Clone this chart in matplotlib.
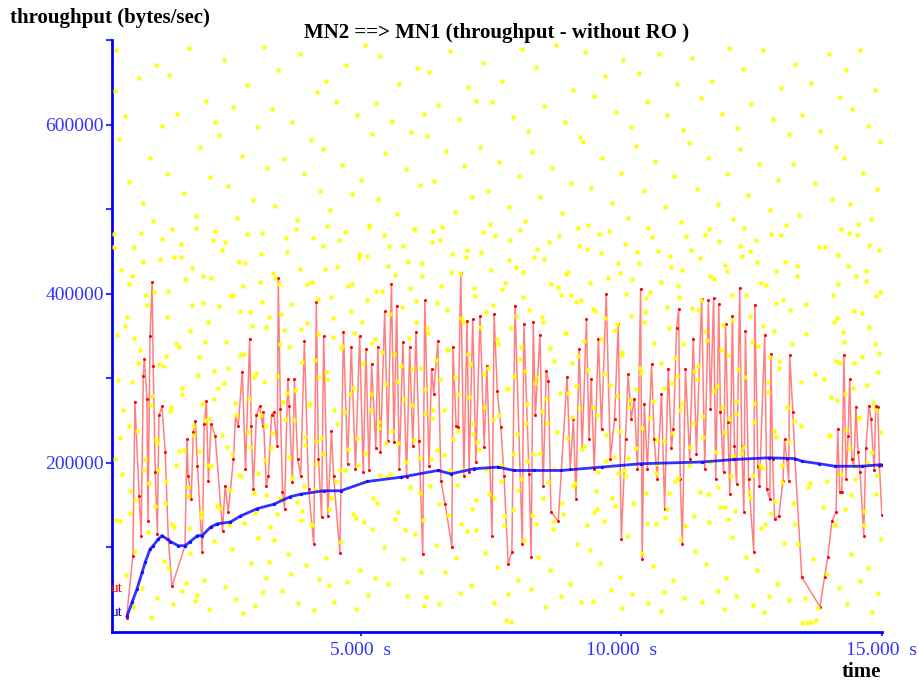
import matplotlib
matplotlib.use("Agg")
import matplotlib.pyplot as plt

plt.rcParams["font.family"] = ["Liberation Serif", "DejaVu Serif"]

# ---------------------------------------------------------------------------
# Data (time in s, throughput in kbytes/sec)
# ---------------------------------------------------------------------------
red_t = [0.51, 0.63, 0.67, 0.75, 0.79, 0.83, 0.85, 0.90, 0.92, 0.96, 1.00, 1.02,
         1.06, 1.10, 1.13, 1.19, 1.25, 1.31, 1.38, 1.63, 1.67, 1.69, 1.75, 1.79,
         1.83, 1.87, 1.96, 2.00, 2.04, 2.08, 2.13, 2.21, 2.35, 2.40, 2.46, 2.56,
         2.60, 2.65, 2.73, 2.79, 2.87, 2.90, 2.94, 3.00, 3.06, 3.12, 3.13, 3.19,
         3.23, 3.29, 3.33, 3.40, 3.42, 3.46, 3.50, 3.54, 3.60, 3.63, 3.69, 3.73,
         3.79, 3.85, 3.92, 4.00, 4.10, 4.15, 4.19, 4.25, 4.29, 4.37, 4.44, 4.48,
         4.60, 4.67, 4.75, 4.82, 4.90, 4.98, 5.05, 5.10, 5.16, 5.21, 5.29, 5.33,
         5.38, 5.46, 5.52, 5.59, 5.64, 5.69, 5.74, 5.81, 5.88, 5.94, 6.00, 6.06,
         6.12, 6.19, 6.23, 6.31, 6.36, 6.40, 6.48, 6.54, 6.62, 6.75, 6.77, 6.83,
         6.87, 6.92, 6.98, 7.04, 7.08, 7.15, 7.21, 7.29, 7.37, 7.42, 7.52, 7.56,
         7.62, 7.69, 7.75, 7.83, 7.90, 7.96, 8.10, 8.13, 8.23, 8.27, 8.31, 8.35,
         8.44, 8.50, 8.56, 8.60, 8.65, 8.79, 8.96, 9.02, 9.08, 9.13, 9.19, 9.25,
         9.33, 9.38, 9.42, 9.48, 9.56, 9.62, 9.71, 9.79, 9.87, 9.94, 10.00, 10.08,
         10.13, 10.19, 10.25, 10.31, 10.37, 10.40, 10.44, 10.50, 10.58, 10.63, 10.69, 10.77,
         10.83, 10.90, 10.96, 11.00, 11.06, 11.10, 11.13, 11.17, 11.23, 11.31, 11.38, 11.44,
         11.54, 11.60, 11.67, 11.71, 11.77, 11.81, 11.87, 11.90, 11.96, 12.00, 12.04, 12.08,
         12.13, 12.17, 12.21, 12.27, 12.31, 12.35, 12.38, 12.44, 12.54, 12.56, 12.62, 12.65,
         12.75, 12.79, 12.85, 12.87, 12.90, 12.94, 13.02, 13.10, 13.13, 13.17, 13.21, 13.23,
         13.29, 13.33, 13.46, 13.81, 13.90, 13.96, 14.04, 14.12, 14.15, 14.19, 14.23, 14.27,
         14.31, 14.35, 14.38, 14.42, 14.46, 14.50, 14.54, 14.58, 14.65, 14.69, 14.75, 14.79,
         14.85, 14.88, 14.92, 14.95, 15.00]
red_v = [17, 90, 272, 161, 114, 303, 323, 276, 131, 350, 414, 315,
         189, 116, 256, 267, 213, 110, 54, 102, 228, 185, 157, 237,
         249, 196, 95, 246, 273, 178, 246, 232, 120, 173, 142, 205,
         256, 243, 308, 193, 347, 244, 169, 256, 267, 244, 260, 173,
         185, 256, 260, 220, 418, 264, 166, 146, 299, 267, 177, 299,
         205, 185, 344, 169, 104, 390, 205, 136, 350, 137, 238, 185,
         94, 355, 199, 337, 193, 350, 189, 335, 191, 317, 217, 337,
         213, 379, 226, 411, 225, 386, 193, 343, 183, 337, 220, 355,
         226, 92, 392, 196, 311, 282, 344, 179, 151, 101, 337, 244,
         242, 425, 185, 368, 189, 370, 201, 374, 219, 315, 114, 376,
         285, 242, 185, 80, 95, 386, 104, 364, 187, 89, 366, 256,
         351, 173, 309, 297, 142, 131, 302, 193, 252, 157, 335, 217,
         370, 228, 299, 193, 347, 240, 400, 205, 252, 364, 110, 228,
         305, 252, 276, 193, 406, 86, 270, 193, 317, 228, 181, 282,
         146, 311, 217, 240, 359, 382, 181, 104, 311, 205, 347, 211,
         394, 193, 392, 264, 395, 181, 388, 260, 189, 364, 248, 163,
         374, 220, 175, 407, 220, 142, 356, 181, 95, 387, 196, 173,
         351, 169, 157, 329, 205, 134, 137, 178, 228, 205, 179, 327,
         260, 205, 65, 30, 65, 89, 131, 142, 240, 166, 166, 327,
         181, 232, 299, 205, 196, 266, 213, 189, 114, 217, 267, 252,
         191, 267, 266, 196, 138]

blue_t = [0.52, 0.62, 0.71, 0.81, 0.87, 0.96, 1.02, 1.12, 1.19, 1.35, 1.50, 1.63,
          1.73, 1.87, 1.96, 2.12, 2.25, 2.50, 2.69, 3.02, 3.33, 3.65, 3.85, 4.29,
          4.62, 5.13, 5.77, 6.48, 6.73, 7.17, 7.63, 7.94, 8.33, 8.85, 9.62, 10.38,
          11.54, 12.17, 12.83, 13.33, 13.46, 13.79, 14.10, 14.62, 15.00]
blue_v = [19, 36, 51, 71, 83, 98, 102, 110, 114, 107, 102, 102,
          107, 114, 114, 124, 128, 130, 137, 146, 151, 160, 163, 167,
          167, 178, 183, 191, 187, 193, 195, 191, 191, 191, 195, 199,
          201, 204, 206, 205, 202, 199, 196, 196, 198]

# yellow scatter, split in time bands
yellow_0_5 = [
    (0.31, 688), (0.29, 640), (0.47, 610), (0.74, 655), (1.08, 671), (0.36, 583), (0.95, 560), (1.19, 598),
    (0.56, 532), (0.83, 507), (0.27, 471), (1.02, 486), (0.66, 455), (0.41, 428), (1.15, 441), (0.88, 398),
    (0.52, 372), (0.33, 351), (0.77, 333), (1.21, 315), (0.62, 296), (0.99, 279), (0.44, 262), (0.71, 238),
    (1.12, 224), (0.29, 205), (0.85, 191), (0.58, 167), (1.05, 149), (0.38, 131), (0.92, 118), (0.68, 96),
    (1.22, 84), (0.49, 67), (0.81, 52), (1.10, 40), (0.30, 22), (0.64, 30), (0.97, 18), (0.55, 412),
    (1.33, 659), (1.71, 690), (2.03, 628), (1.48, 612), (1.92, 574), (2.21, 603), (1.28, 541), (1.62, 519),
    (2.11, 538), (1.84, 492), (1.39, 477), (2.16, 463), (1.55, 444), (1.97, 421), (1.31, 403), (1.76, 387),
    (2.07, 366), (1.46, 342), (1.89, 325), (2.19, 309), (1.58, 288), (1.36, 266), (2.01, 251), (1.79, 233),
    (1.51, 214), (2.13, 196), (1.27, 178), (1.68, 161), (1.94, 142), (1.42, 124), (2.18, 108), (1.73, 93),
    (1.30, 76), (1.99, 61), (1.57, 49), (1.82, 37), (2.09, 27), (1.40, 33), (1.64, 58), (1.87, 44),
    (2.37, 676), (2.81, 647), (3.14, 692), (2.55, 621), (3.02, 597), (2.29, 588), (2.72, 563), (3.21, 549),
    (2.46, 527), (2.93, 511), (2.63, 489), (3.11, 472), (2.34, 452), (2.78, 436), (3.06, 414), (2.51, 397),
    (2.87, 378), (3.18, 361), (2.41, 343), (2.69, 327), (2.99, 306), (2.27, 289), (2.58, 271), (3.09, 257),
    (2.83, 237), (2.44, 219), (3.16, 203), (2.66, 186), (2.95, 164), (2.31, 147), (2.76, 129), (3.04, 111),
    (2.53, 98), (2.89, 81), (3.19, 64), (2.39, 53), (2.61, 39), (2.97, 31), (3.13, 47), (2.74, 22),
    (3.41, 664), (3.83, 683), (4.17, 639), (3.29, 618), (3.68, 603), (4.04, 582), (3.52, 559), (3.91, 541),
    (4.22, 521), (3.36, 504), (3.77, 487), (4.09, 466), (3.58, 449), (3.31, 425), (3.97, 411), (4.19, 394),
    (3.47, 376), (3.86, 358), (3.63, 337), (4.12, 322), (3.39, 303), (3.74, 286), (4.01, 268), (3.55, 252),
    (3.93, 231), (3.28, 217), (4.15, 199), (3.69, 182), (3.45, 159), (3.88, 143), (4.07, 127), (3.33, 109),
    (3.61, 92), (3.96, 79), (4.21, 63), (3.49, 48), (3.79, 34), (4.10, 26), (3.66, 68), (3.25, 83),
    (4.34, 652), (4.71, 671), (5.09, 694), (4.52, 627), (4.93, 611), (5.21, 589), (4.28, 571), (4.64, 552),
    (5.01, 534), (4.83, 518), (4.41, 499), (5.16, 481), (4.58, 463), (4.97, 447), (4.31, 429), (4.76, 409),
    (5.12, 392), (4.47, 371), (4.88, 354), (4.62, 336), (5.04, 318), (4.36, 299), (4.79, 281), (5.19, 263),
    (4.55, 246), (4.92, 229), (4.27, 211), (4.69, 192), (5.07, 177), (4.44, 158), (4.86, 139), (5.22, 122),
    (4.61, 106), (4.33, 88), (4.99, 73), (4.74, 59), (5.14, 44), (4.49, 36), (4.91, 27), (4.39, 55),
]
yellow_5_10 = [
    (5.37, 681), (5.74, 648), (6.08, 667), (5.29, 626), (5.61, 604), (5.97, 591), (6.21, 613), (5.46, 566),
    (5.86, 547), (6.14, 528), (5.33, 512), (5.69, 494), (6.02, 476), (5.54, 457), (5.91, 438), (6.18, 421),
    (5.41, 403), (5.79, 384), (6.06, 366), (5.27, 347), (5.64, 329), (5.99, 311), (5.49, 293), (5.84, 276),
    (6.23, 259), (5.36, 241), (5.71, 223), (6.11, 206), (5.57, 187), (5.94, 171), (5.31, 152), (5.66, 134),
    (6.04, 116), (5.44, 101), (5.81, 86), (6.16, 71), (5.52, 57), (5.89, 42), (6.22, 31), (5.28, 64),
    (6.32, 662), (6.71, 687), (7.06, 645), (6.49, 623), (6.89, 606), (7.21, 628), (6.27, 587), (6.63, 569),
    (6.98, 551), (6.41, 533), (7.13, 514), (6.81, 497), (6.56, 479), (6.36, 461), (7.02, 443), (6.74, 426),
    (7.18, 407), (6.47, 389), (6.93, 371), (6.29, 353), (6.66, 334), (7.09, 317), (6.53, 299), (6.86, 281),
    (6.38, 263), (7.15, 246), (6.77, 228), (6.59, 209), (6.96, 192), (6.33, 173), (7.22, 156), (6.68, 138),
    (7.04, 119), (6.44, 103), (6.83, 87), (6.61, 71), (7.11, 56), (6.91, 46), (6.51, 33), (6.26, 41),
    (7.34, 673), (7.72, 651), (8.09, 689), (7.51, 627), (7.93, 609), (8.21, 592), (7.29, 574), (7.66, 556),
    (8.03, 539), (7.44, 521), (7.84, 503), (8.16, 486), (7.58, 468), (7.31, 449), (7.97, 431), (7.77, 413),
    (8.12, 396), (7.41, 378), (7.88, 359), (7.63, 341), (8.06, 323), (7.36, 305), (7.81, 287), (8.19, 270),
    (7.54, 252), (7.99, 234), (7.27, 216), (7.69, 198), (8.08, 181), (7.47, 163), (7.92, 144), (7.74, 126),
    (8.14, 109), (7.38, 93), (7.61, 77), (8.01, 61), (7.83, 45), (7.55, 34), (7.78, 14), (7.88, 12),
    (8.36, 668), (8.74, 694), (9.08, 641), (8.52, 622), (8.91, 603), (9.21, 585), (8.29, 567), (8.67, 549),
    (9.03, 531), (8.44, 514), (8.86, 496), (9.16, 478), (8.61, 461), (8.33, 443), (8.98, 426), (8.79, 408),
    (9.13, 390), (8.48, 372), (8.94, 354), (8.64, 336), (9.06, 318), (8.39, 301), (8.82, 283), (9.19, 265),
    (8.57, 247), (8.96, 229), (8.31, 211), (8.71, 193), (9.11, 176), (8.49, 158), (8.89, 140), (8.69, 122),
    (9.14, 104), (8.41, 89), (8.63, 73), (9.01, 57), (8.84, 43), (8.54, 30), (9.22, 36), (8.27, 51),
    (9.31, 686), (9.69, 657), (10.04, 676), (9.48, 634), (9.89, 615), (10.19, 597), (9.27, 579), (9.63, 561),
    (9.99, 543), (9.42, 525), (9.83, 507), (10.13, 489), (9.57, 471), (9.34, 453), (9.94, 436), (9.75, 418),
    (10.09, 400), (9.45, 382), (9.91, 364), (9.61, 346), (10.02, 328), (9.37, 310), (9.79, 292), (10.16, 274),
    (9.54, 256), (9.96, 238), (9.29, 220), (9.71, 202), (10.07, 185), (9.51, 167), (9.87, 149), (9.67, 131),
    (10.11, 113), (9.39, 97), (9.59, 81), (9.97, 65), (9.81, 50), (9.46, 37), (10.21, 45), (10.01, 28),
]
yellow_10_15 = [
    (10.33, 661), (10.72, 683), (11.06, 648), (10.49, 627), (10.88, 611), (11.19, 593), (10.28, 575), (10.64, 557),
    (11.01, 539), (10.43, 521), (10.84, 503), (11.14, 485), (10.59, 467), (10.31, 449), (10.96, 431), (10.77, 414),
    (11.11, 396), (10.46, 378), (10.92, 360), (10.62, 342), (11.03, 324), (10.37, 306), (10.81, 288), (11.17, 271),
    (10.55, 253), (10.97, 235), (10.29, 217), (10.69, 199), (11.09, 182), (10.47, 164), (10.87, 146), (10.67, 128),
    (11.12, 110), (10.39, 94), (10.61, 78), (10.99, 62), (10.82, 47), (10.52, 34), (11.21, 40), (10.76, 25),
    (11.35, 679), (11.73, 652), (12.07, 691), (11.52, 631), (11.93, 613), (12.22, 596), (11.29, 578), (11.66, 560),
    (12.02, 542), (11.45, 524), (11.86, 506), (12.15, 488), (11.61, 470), (11.33, 452), (11.98, 434), (11.78, 417),
    (12.12, 399), (11.48, 381), (11.95, 363), (11.64, 345), (12.05, 327), (11.39, 309), (11.83, 291), (12.19, 273),
    (11.57, 255), (11.99, 237), (11.31, 219), (11.71, 201), (12.10, 184), (11.50, 166), (11.90, 148), (11.69, 130),
    (12.13, 112), (11.42, 96), (11.63, 80), (12.01, 64), (11.85, 49), (11.55, 36), (12.20, 42), (11.96, 27),
    (12.34, 666), (12.71, 688), (13.06, 643), (12.49, 624), (12.90, 606), (13.21, 589), (12.28, 571), (12.65, 553),
    (13.01, 535), (12.43, 517), (12.85, 499), (13.15, 481), (12.59, 463), (12.31, 445), (12.96, 427), (12.77, 410),
    (13.11, 392), (12.46, 374), (12.92, 356), (12.62, 338), (13.03, 320), (12.37, 302), (12.81, 284), (13.18, 266),
    (12.55, 248), (12.97, 230), (12.29, 212), (12.69, 194), (13.09, 177), (12.47, 159), (12.87, 141), (12.67, 123),
    (13.12, 105), (12.39, 89), (12.61, 73), (12.99, 57), (12.83, 43), (12.53, 32), (13.22, 38), (12.74, 24),
    (13.33, 672), (13.64, 649), (13.98, 684), (14.19, 633), (13.47, 611), (13.81, 592), (14.11, 574), (13.29, 553),
    (13.71, 531), (14.04, 512), (13.41, 493), (14.22, 476), (13.91, 455), (13.36, 433), (14.15, 412), (13.55, 388),
    (14.07, 367), (13.27, 341), (14.20, 318), (13.44, 296), (14.13, 274), (13.31, 250), (14.00, 233), (13.58, 171),
    (13.86, 148), (14.09, 126), (13.39, 104), (13.67, 86), (13.94, 69), (14.17, 52), (13.52, 40), (13.77, 28),
    (13.46, 11), (13.56, 11), (13.64, 12), (13.74, 14),
    (14.31, 664), (14.58, 688), (14.86, 641), (14.42, 618), (14.73, 598), (14.97, 579), (14.28, 561), (14.63, 543),
    (14.91, 524), (14.39, 506), (14.79, 488), (14.52, 470), (14.95, 452), (14.34, 433), (14.69, 415), (14.88, 397),
    (14.46, 379), (14.76, 361), (14.27, 343), (14.61, 325), (14.93, 307), (14.44, 289), (14.82, 271), (14.55, 253),
    (14.99, 236), (14.36, 218), (14.71, 200), (14.49, 181), (14.89, 163), (14.29, 145), (14.66, 127), (14.98, 110),
    (14.41, 92), (14.74, 76), (14.57, 60), (14.92, 46), (14.33, 33), (14.81, 24),
]
# denser band of yellow dots around the red trace
yellow_band_0_7 = [
    (0.27, 455), (0.35, 298), (0.42, 187), (0.48, 362), (0.55, 244), (0.61, 421), (0.68, 156), (0.73, 318),
    (0.79, 472), (0.86, 205), (0.91, 387), (0.97, 268), (0.30, 132), (0.58, 141), (0.83, 438), (0.39, 229),
    (0.65, 348), (0.94, 176),
    (1.03, 402), (1.08, 228), (1.14, 317), (1.19, 465), (1.24, 153), (1.29, 372), (1.35, 261), (1.41, 444),
    (1.46, 198), (1.52, 337), (1.57, 282), (1.63, 417), (1.68, 171), (1.73, 356), (1.79, 243), (1.84, 478),
    (1.88, 304), (1.93, 136), (1.98, 389), (1.12, 191), (1.38, 128), (1.61, 215), (1.77, 430), (1.95, 270),
    (1.27, 326), (1.55, 459), (1.70, 123), (1.90, 214),
    (2.02, 343), (2.07, 197), (2.13, 418), (2.18, 276), (2.24, 149), (2.29, 385), (2.34, 233), (2.40, 461),
    (2.45, 312), (2.50, 168), (2.56, 399), (2.61, 257), (2.66, 438), (2.71, 185), (2.77, 329), (2.82, 471),
    (2.87, 219), (2.92, 362), (2.97, 141), (2.10, 252), (2.37, 294), (2.53, 211), (2.69, 380), (2.85, 275),
    (2.21, 474), (2.47, 127), (2.74, 409), (2.95, 302),
    (3.03, 188), (3.08, 447), (3.14, 296), (3.19, 162), (3.24, 373), (3.30, 235), (3.35, 419), (3.40, 139),
    (3.46, 341), (3.51, 272), (3.56, 466), (3.62, 207), (3.67, 388), (3.72, 251), (3.78, 154), (3.83, 429),
    (3.88, 319), (3.93, 221), (3.98, 365), (3.11, 390), (3.27, 124), (3.44, 412), (3.59, 283), (3.75, 476),
    (3.91, 173), (3.17, 244), (3.53, 357), (3.85, 132),
    (4.02, 271), (4.07, 414), (4.12, 168), (4.18, 352), (4.23, 229), (4.28, 456), (4.33, 307), (4.39, 145),
    (4.44, 396), (4.49, 262), (4.55, 431), (4.60, 192), (4.65, 338), (4.70, 473), (4.76, 216), (4.81, 379),
    (4.86, 289), (4.91, 135), (4.97, 442), (4.05, 128), (4.21, 302), (4.36, 480), (4.52, 178), (4.68, 260),
    (4.84, 411), (4.15, 226), (4.47, 349), (4.94, 197),
    (5.03, 366), (5.08, 212), (5.13, 445), (5.19, 281), (5.24, 159), (5.29, 403), (5.35, 248), (5.40, 331),
    (5.45, 469), (5.50, 183), (5.56, 376), (5.61, 238), (5.66, 422), (5.71, 142), (5.77, 315), (5.82, 457),
    (5.87, 201), (5.92, 348), (5.98, 269), (5.06, 130), (5.22, 342), (5.38, 186), (5.53, 433), (5.69, 297),
    (5.85, 121), (5.16, 479), (5.48, 224), (5.94, 407),
    (6.02, 227), (6.07, 391), (6.13, 164), (6.18, 436), (6.23, 287), (6.28, 359), (6.34, 205), (6.39, 474),
    (6.44, 322), (6.50, 151), (6.55, 409), (6.60, 263), (6.66, 381), (6.71, 192), (6.76, 447), (6.81, 301),
    (6.87, 238), (6.92, 128), (6.97, 367), (6.05, 476), (6.20, 133), (6.36, 253), (6.52, 464), (6.68, 333),
    (6.84, 174), (6.15, 312), (6.47, 215), (6.90, 424),
]
yellow_band_7_15 = [
    (7.03, 452), (7.08, 278), (7.13, 146), (7.19, 397), (7.24, 225), (7.29, 361), (7.34, 473), (7.40, 193),
    (7.45, 312), (7.50, 428), (7.55, 159), (7.61, 346), (7.66, 256), (7.71, 405), (7.77, 137), (7.82, 289),
    (7.87, 463), (7.92, 211), (7.98, 374), (7.06, 329), (7.22, 121), (7.37, 266), (7.53, 387), (7.69, 178),
    (7.85, 440), (7.16, 234), (7.48, 482), (7.94, 303),
    (8.02, 168), (8.07, 337), (8.12, 426), (8.18, 247), (8.23, 381), (8.28, 138), (8.34, 294), (8.39, 453),
    (8.44, 212), (8.50, 366), (8.55, 275), (8.60, 177), (8.66, 412), (8.71, 321), (8.76, 236), (8.81, 468),
    (8.87, 152), (8.92, 353), (8.97, 283), (8.05, 475), (8.20, 202), (8.36, 128), (8.52, 441), (8.68, 131),
    (8.84, 398), (8.15, 309), (8.47, 261), (8.94, 423),
    (9.03, 398), (9.08, 173), (9.13, 291), (9.19, 457), (9.24, 216), (9.29, 344), (9.35, 126), (9.40, 413),
    (9.45, 266), (9.50, 379), (9.56, 189), (9.61, 448), (9.66, 305), (9.71, 233), (9.77, 474), (9.82, 158),
    (9.87, 357), (9.92, 279), (9.98, 424), (9.06, 254), (9.22, 392), (9.37, 481), (9.53, 146), (9.69, 371),
    (9.85, 207), (9.16, 326), (9.48, 142), (9.94, 188),
    (10.02, 331), (10.07, 459), (10.12, 206), (10.18, 374), (10.23, 152), (10.28, 287), (10.34, 436), (10.39, 241),
    (10.44, 367), (10.50, 129), (10.55, 402), (10.60, 273), (10.66, 188), (10.71, 451), (10.76, 318), (10.81, 226),
    (10.87, 384), (10.92, 164), (10.97, 295), (10.05, 192), (10.20, 417), (10.36, 312), (10.52, 478), (10.68, 227),
    (10.84, 135), (10.15, 266), (10.47, 395), (10.94, 445),
    (11.03, 178), (11.08, 409), (11.13, 262), (11.19, 341), (11.24, 468), (11.29, 197), (11.35, 383), (11.40, 137),
    (11.45, 299), (11.50, 442), (11.56, 231), (11.61, 356), (11.66, 163), (11.71, 421), (11.77, 285), (11.82, 213),
    (11.87, 462), (11.92, 334), (11.98, 148), (11.06, 303), (11.22, 125), (11.37, 247), (11.53, 392), (11.69, 476),
    (11.85, 172), (11.16, 428), (11.48, 315), (11.94, 266),
    (12.02, 427), (12.07, 252), (12.12, 369), (12.18, 143), (12.23, 311), (12.28, 456), (12.34, 219), (12.39, 398),
    (12.44, 166), (12.50, 343), (12.55, 271), (12.60, 438), (12.66, 197), (12.71, 362), (12.76, 128), (12.81, 296),
    (12.87, 471), (12.92, 238), (12.97, 389), (12.05, 134), (12.20, 258), (12.36, 478), (12.52, 186), (12.68, 413),
    (12.84, 325), (12.15, 208), (12.47, 450), (12.94, 155),
    (13.03, 312), (13.08, 198), (13.13, 437), (13.19, 266), (13.24, 381), (13.29, 152), (13.36, 421), (13.45, 243),
    (13.55, 352), (13.62, 176), (13.72, 305), (13.80, 455), (13.88, 299), (13.95, 178), (13.98, 232), (13.06, 469),
    (13.21, 225), (13.33, 128),
    (14.02, 278), (14.06, 398), (14.11, 321), (14.16, 446), (14.21, 187), (14.26, 355), (14.31, 239), (14.36, 472),
    (14.41, 162), (14.46, 318), (14.51, 421), (14.56, 254), (14.61, 377), (14.66, 143), (14.71, 292), (14.76, 458),
    (14.81, 213), (14.86, 341), (14.91, 186), (14.96, 402), (14.09, 128), (14.29, 281), (14.49, 196), (14.69, 427),
    (14.89, 262), (14.14, 371), (14.54, 482), (14.94, 330),
]

x_ticks = [5, 10, 15]
x_tick_labels = ["5.000  s", "10.000  s", "15.000  s"]
y_ticks = [100000, 200000, 300000, 400000, 500000, 600000, 700000]
y_tick_labels = ["", "200000", "", "400000", "", "600000", ""]

BLUE = "#3333ff"

# ---------------------------------------------------------------------------
# Figure
# ---------------------------------------------------------------------------
fig = plt.figure(figsize=(9.2, 6.86), dpi=100)
ax = fig.add_axes([112 / 920, 1 - 632 / 686, 770 / 920, 592 / 686])

yel = yellow_0_5 + yellow_5_10 + yellow_10_15 + yellow_band_0_7 + yellow_band_7_15
ax.plot([p[0] for p in yel], [p[1] * 1000 for p in yel], "s", ms=2.3,
        color="#ffff00", mec="none", zorder=3)

rv = [v * 1000 for v in red_v]
ax.plot(red_t, rv, color="#ff4a4a", lw=1.1, alpha=0.7, zorder=2)
ax.plot(red_t, rv, "o", ms=2.2, color="#ff0000", mec="none", zorder=2)

bv = [v * 1000 for v in blue_v]
ax.plot(blue_t, bv, color="#0000ff", lw=2.0, alpha=0.8, zorder=4)
ax.plot(blue_t, bv, "o", ms=2.4, color="#1010ff", mec="none", zorder=4)

ax.set_xlim(0.23, 15.0)
ax.set_ylim(0, 700000)

for side in ("top", "right"):
    ax.spines[side].set_visible(False)
for side in ("left", "bottom"):
    ax.spines[side].set_color("#0000ff")
    ax.spines[side].set_linewidth(2.0)

ax.set_yticks(y_ticks)
ax.set_yticklabels(y_tick_labels)
ax.set_xticks(x_ticks)
ax.set_xticklabels(x_tick_labels)
ax.tick_params(colors=BLUE, labelsize=14, length=4, width=1.5, pad=2)
ax.tick_params(axis="x", length=3, pad=4)

fig.text(10 / 920, 1 - 18 / 686, "throughput (bytes/sec)", fontsize=15,
         fontweight="bold", ha="left", va="center")
fig.text(497 / 920, 1 - 33 / 686, "MN2 ==> MN1 (throughput - without RO )",
         fontsize=15, fontweight="bold", ha="center", va="center")
fig.text(881 / 920, 1 - 672 / 686, "time", fontsize=15, fontweight="bold",
         ha="right", va="center")
fig.text(111 / 920, 1 - 588 / 686, "ut", fontsize=11, color="#ff0000",
         ha="left", va="center")
fig.text(111 / 920, 1 - 612 / 686, "ut", fontsize=11, color="#0000ff",
         ha="left", va="center")

plt.savefig("out.png", dpi=100)
plt.close()
